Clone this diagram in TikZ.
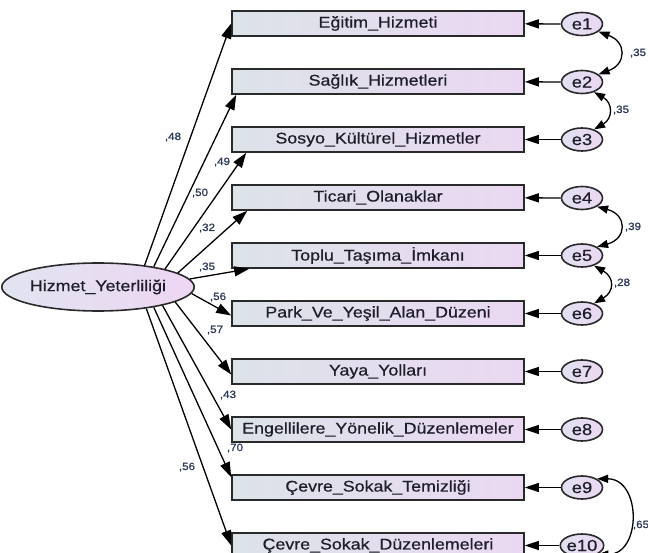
\documentclass[tikz,border=0pt]{standalone}
\usepackage{fontspec}
\setmainfont{Liberation Sans}[FakeStretch=1.15,FakeBold=0.6]
\newfontfamily\labfont{Liberation Sans}[FakeStretch=1.1,FakeBold=1.2]
\usetikzlibrary{arrows.meta,shapes.geometric,calc}
\definecolor{obsL}{HTML}{DCE3E9}
\definecolor{obsR}{HTML}{EAD8F2}
\definecolor{latL}{HTML}{E0E4F0}
\definecolor{latR}{HTML}{EED6F2}
\definecolor{errL}{HTML}{E2E0F0}
\definecolor{errR}{HTML}{EAD8F2}
\definecolor{txt}{HTML}{1E1E2A}
\definecolor{lbl}{HTML}{2E3A58}
\definecolor{edge}{HTML}{2A2A2A}
\begin{document}
\begin{tikzpicture}[x=1pt,y=1pt,
 obs/.style={draw=edge,line width=1.6pt,left color=obsL,right color=obsR,minimum width=292pt,minimum height=25pt,inner sep=0pt,font=\fontsize{15.5}{18}\selectfont,text=txt},
 err/.style={ellipse,draw=edge,line width=1.6pt,left color=errL,right color=errR,minimum width=41pt,minimum height=23pt,inner sep=0pt,font=\fontsize{16}{18}\selectfont,text=txt},
 lat/.style={ellipse,draw=edge,line width=1.6pt,left color=latL,right color=latR,minimum width=170pt,minimum height=48pt,inner sep=0pt,font=\fontsize{15.5}{18}\selectfont,text=txt},
 load/.style={line width=1.3pt,draw=black,-{Triangle[length=15pt,width=10pt]}},
 eload/.style={line width=1.3pt,draw=black,-{Triangle[length=14pt,width=9pt]}},
 cov/.style={line width=1.3pt,draw=black,{Triangle[length=11pt,width=8pt]}-{Triangle[length=11pt,width=8pt]}},
 lab/.style={font=\labfont\fontsize{10.5}{12}\selectfont,text=lbl,inner sep=0pt}
]
\useasboundingbox (0,0) rectangle (648,-553);
% observed variables
\node[obs] (b1) at (378,-23.5) {Eğitim\_Hizmeti};
\node[obs] (b2) at (378,-81.5) {Sağlık\_Hizmetleri};
\node[obs] (b3) at (378,-139.5) {Sosyo\_Kültürel\_Hizmetler};
\node[obs] (b4) at (378,-197.5) {Ticari\_Olanaklar};
\node[obs] (b5) at (378,-255.5) {Toplu\_Taşıma\_İmkanı};
\node[obs] (b6) at (378,-313.5) {Park\_Ve\_Yeşil\_Alan\_Düzeni};
\node[obs] (b7) at (378,-371.5) {Yaya\_Yolları};
\node[obs] (b8) at (378,-429.5) {Engellilere\_Yönelik\_Düzenlemeler};
\node[obs] (b9) at (378,-487.5) {Çevre\_Sokak\_Temizliği};
\node[obs] (b10) at (378,-545.5) {Çevre\_Sokak\_Düzenlemeleri};
% errors
\foreach \i/\y in {1/24,2/82,3/139.5,4/198,5/255.5,6/313.5,7/371.5,8/429.5,9/487.5,10/545.5}{
  \node[err] (e\i) at (582,-\y) {e\i};
  \draw[eload] (e\i) -- (b\i);
}
% latent
\node[lat] (hz) at (98,-287) {Hizmet\_Yeterliliği};
% loadings
\draw[load] (hz.25) -- (b1.west);
\draw[load] (hz.20) -- ([xshift=5pt]b2.south west);
\draw[load] (hz.15) -- ([xshift=15pt]b3.south west);
\draw[load] (hz.10) -- ([xshift=16pt]b4.south west);
\draw[load] (hz.5) -- ([xshift=18pt]b5.south west);
\draw[load] (hz.-4) -- ([yshift=-2pt]b6.west);
\draw[load] (hz.-11) -- ([yshift=-3pt]b7.west);
\draw[load] (hz.-16) -- (b8.west);
\draw[load] (hz.-20) -- ([yshift=-3pt]b9.north west);
\draw[load] (hz.-24) -- (b10.west);
% loading labels
\node[lab] (l1) at (173,-137) {,48};
\node[lab] (l2) at (200,-193) {,50};
\node[lab] (l3) at (222,-162) {,49};
\node[lab] (l4) at (207,-228) {,32};
\node[lab] (l5) at (207,-267) {,35};
\node[lab] (l6) at (218,-297) {,56};
\node[lab] (l7) at (215,-330) {,57};
\node[lab] (l8) at (228,-395) {,43};
\node[lab] (l9) at (235,-448) {,70};
\node[lab] (l10) at (187,-467) {,56};
% covariances
\draw[cov] (e1.-25) to[out=-20,in=20,looseness=1.8] (e2.25);
\draw[cov] (e2.-40) to[out=-30,in=30,looseness=1.5] (e3.40);
\draw[cov] (e4.-30) to[out=-15,in=15,looseness=2] (e5.30);
\draw[cov] (e5.-40) to[out=-30,in=30,looseness=1.6] (e6.40);
\draw[cov] (e9.30) to[out=0,in=0,looseness=1.5] (e10.-30);
\node[lab] (c1) at (638,-53) {,35};
\node[lab] (c2) at (621,-110) {,35};
\node[lab] (c3) at (633,-227) {,39};
\node[lab] (c4) at (622,-283) {,28};
\node[lab] (c5) at (641,-525) {,65};
\end{tikzpicture}
\end{document}
